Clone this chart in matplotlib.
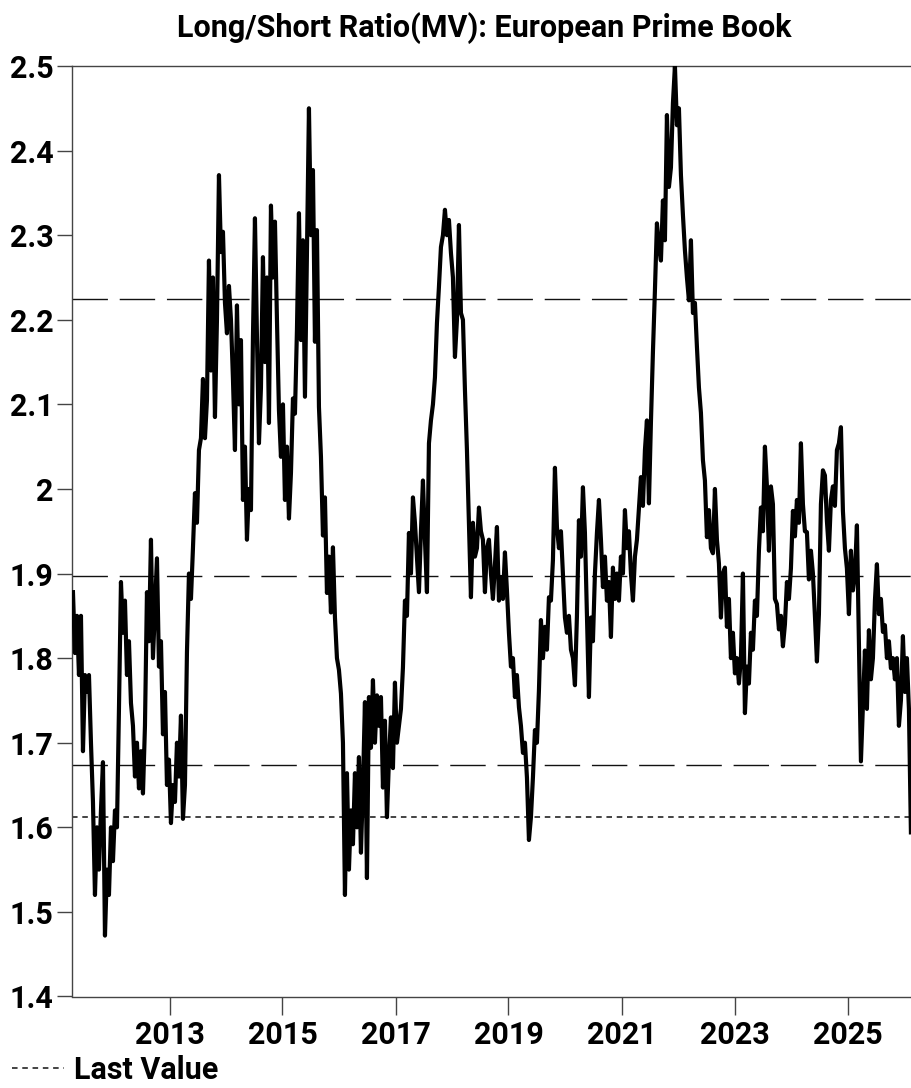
import matplotlib
matplotlib.use("Agg")
import matplotlib.pyplot as plt
import numpy as np
import pandas as pd
from matplotlib.ticker import FuncFormatter

# ---------------- data ----------------
start_date = "2011-04-18"
end_date = "2026-02-14"

values = [
    1.878, 1.806, 1.85, 1.78, 1.85, 1.69, 1.78, 1.76, 1.78, 1.70,
    1.63, 1.52, 1.60, 1.55, 1.62, 1.677, 1.472, 1.55, 1.52, 1.60,
    1.56, 1.62, 1.60, 1.74, 1.89, 1.83, 1.868, 1.78, 1.82, 1.747,
    1.72, 1.66, 1.70, 1.646, 1.69, 1.64, 1.72, 1.878, 1.82, 1.94,
    1.80, 1.86, 1.918, 1.79, 1.82, 1.71, 1.76, 1.65, 1.68, 1.605,
    1.65, 1.63, 1.70, 1.66, 1.732, 1.61, 1.65, 1.807, 1.90, 1.87,
    1.93, 1.995, 1.96, 2.046, 2.06, 2.13, 2.06, 2.105, 2.27, 2.14,
    2.25, 2.085, 2.20, 2.371, 2.28, 2.304, 2.22, 2.184, 2.24, 2.20,
    2.13, 2.046, 2.217, 2.10, 2.176, 1.987, 2.05, 1.94, 2.00, 1.975,
    2.18, 2.32, 2.18, 2.054, 2.12, 2.274, 2.15, 2.25, 2.078, 2.335,
    2.25, 2.316, 2.20, 2.093, 2.038, 2.10, 1.987, 2.05, 1.965, 2.019,
    2.107, 2.089, 2.188, 2.326, 2.176, 2.294, 2.109, 2.276, 2.45, 2.30,
    2.377, 2.174, 2.306, 2.097, 2.038, 1.945, 1.99, 1.877, 1.92, 1.854,
    1.931, 1.848, 1.80, 1.786, 1.758, 1.70, 1.52, 1.664, 1.55, 1.62,
    1.58, 1.664, 1.60, 1.683, 1.57, 1.65, 1.748, 1.54, 1.754, 1.694,
    1.774, 1.70, 1.756, 1.72, 1.754, 1.647, 1.726, 1.612, 1.68, 1.73,
    1.67, 1.771, 1.70, 1.72, 1.74, 1.789, 1.868, 1.85, 1.948, 1.90,
    1.99, 1.96, 1.92, 1.878, 1.95, 2.01, 1.94, 1.878, 2.054, 2.081,
    2.10, 2.132, 2.196, 2.239, 2.286, 2.30, 2.33, 2.30, 2.318, 2.279,
    2.25, 2.156, 2.20, 2.312, 2.208, 2.20, 2.117, 2.046, 1.96, 1.872,
    1.96, 1.92, 1.93, 1.978, 1.95, 1.94, 1.878, 1.93, 1.94, 1.90,
    1.87, 1.91, 1.955, 1.868, 1.896, 1.87, 1.925, 1.88, 1.83, 1.79,
    1.80, 1.754, 1.78, 1.742, 1.72, 1.688, 1.70, 1.659, 1.585, 1.612,
    1.659, 1.715, 1.70, 1.762, 1.845, 1.80, 1.837, 1.81, 1.872, 1.868,
    1.916, 2.025, 1.955, 1.93, 1.95, 1.90, 1.848, 1.83, 1.85, 1.81,
    1.80, 1.768, 1.85, 1.963, 1.92, 2.002, 1.948, 1.85, 1.754, 1.848,
    1.82, 1.90, 1.948, 1.987, 1.94, 1.884, 1.92, 1.868, 1.89, 1.825,
    1.907, 1.87, 1.90, 1.868, 1.92, 1.90, 1.975, 1.93, 1.95, 1.90,
    1.868, 1.92, 1.94, 1.978, 2.014, 1.98, 2.046, 2.081, 1.983, 2.079,
    2.162, 2.235, 2.314, 2.286, 2.27, 2.341, 2.294, 2.442, 2.357, 2.38,
    2.456, 2.50, 2.43, 2.45, 2.371, 2.324, 2.282, 2.25, 2.223, 2.294,
    2.208, 2.22, 2.168, 2.12, 2.09, 2.034, 2.01, 1.943, 1.975, 1.93,
    1.924, 2.00, 1.94, 1.912, 1.848, 1.90, 1.907, 1.837, 1.87, 1.80,
    1.83, 1.782, 1.80, 1.77, 1.80, 1.90, 1.735, 1.79, 1.77, 1.83,
    1.81, 1.868, 1.85, 1.927, 1.978, 1.95, 2.05, 2.003, 1.927, 2.003,
    1.982, 1.87, 1.864, 1.834, 1.85, 1.814, 1.84, 1.89, 1.87, 1.906,
    1.974, 1.944, 1.987, 1.96, 2.054, 1.982, 1.95, 1.949, 1.893, 1.927,
    1.90, 1.85, 1.796, 1.852, 1.982, 2.022, 2.016, 1.962, 1.927, 1.987,
    2.003, 1.98, 2.046, 2.054, 2.073, 1.974, 1.93, 1.906, 1.852, 1.927,
    1.88, 1.90, 1.957, 1.814, 1.678, 1.742, 1.809, 1.74, 1.833, 1.775,
    1.80, 1.868, 1.911, 1.852, 1.87, 1.831, 1.839, 1.80, 1.82, 1.788,
    1.80, 1.775, 1.80, 1.72, 1.75, 1.826, 1.76, 1.80, 1.74, 1.594,
]

upper_band = 2.224
mean_level = 1.897
lower_band = 1.674
last_value = 1.612

year_ticks = [2013, 2015, 2017, 2019, 2021, 2023, 2025]
y_ticks = [1.4, 1.5, 1.6, 1.7, 1.8, 1.9, 2.0, 2.1, 2.2, 2.3, 2.4, 2.5]
title = "Long/Short Ratio(MV): European Prime Book"
legend_label = "Last Value"

# ---------------- style ----------------
plt.rcParams["font.family"] = ["Roboto", "DejaVu Sans"]
plt.rcParams["font.weight"] = "bold"
plt.rcParams["lines.scale_dashes"] = False

dates = pd.date_range(start_date, end_date, periods=len(values))

fig = plt.figure(figsize=(9.12, 10.88), dpi=100)
ax = fig.add_axes([72.5 / 912, 1 - 996.5 / 1088, 1 - 72.5 / 912, (996.5 - 66) / 1088])

ax.plot(dates, values, color="black", lw=3.0, zorder=3)

for lvl in (upper_band, mean_level, lower_band):
    ax.axhline(lvl, color="#111111", lw=1.0, dashes=(25.5, 8.5), zorder=2)
last_line = ax.axhline(last_value, color="#111111", lw=1.1, dashes=(4.0, 3.4),
                       zorder=2, label=legend_label)

ax.set_ylim(1.4, 2.5)
ax.set_yticks(y_ticks)
ax.yaxis.set_major_formatter(FuncFormatter(lambda v, p: f"{v:g}"))
ax.set_xlim(pd.Timestamp("2011-04-15"), pd.Timestamp("2026-02-21"))
ax.set_xticks([pd.Timestamp(f"{y}-01-01") for y in year_ticks])
ax.set_xticklabels([str(y) for y in year_ticks])

spine_color = "#444444"
for side in ("left", "bottom", "top"):
    ax.spines[side].set_color(spine_color)
    ax.spines[side].set_linewidth(1.0)
ax.spines["right"].set_visible(False)

ax.tick_params(axis="y", length=10.8, width=1.0, pad=3.0, labelsize=22,
               color=spine_color, labelcolor="black")
ax.tick_params(axis="x", length=13, width=1.0, pad=4.0, labelsize=22,
               color=spine_color, labelcolor="black")
for lab in ax.get_xticklabels() + ax.get_yticklabels():
    lab.set_fontweight("bold")

fig.text(484 / 912, 1 - 37 / 1088, title, ha="center", va="baseline",
         fontsize=22, fontweight="bold", color="black")

fig.legend(handles=[last_line], labels=[legend_label], loc="lower left",
           bbox_to_anchor=(12 / 912, 0.003), frameon=False, handlelength=1.7,
           handletextpad=0.33, borderpad=0.0, borderaxespad=0.0,
           prop={"size": 22, "weight": "bold"})

fig.savefig("out.png", dpi=100)
